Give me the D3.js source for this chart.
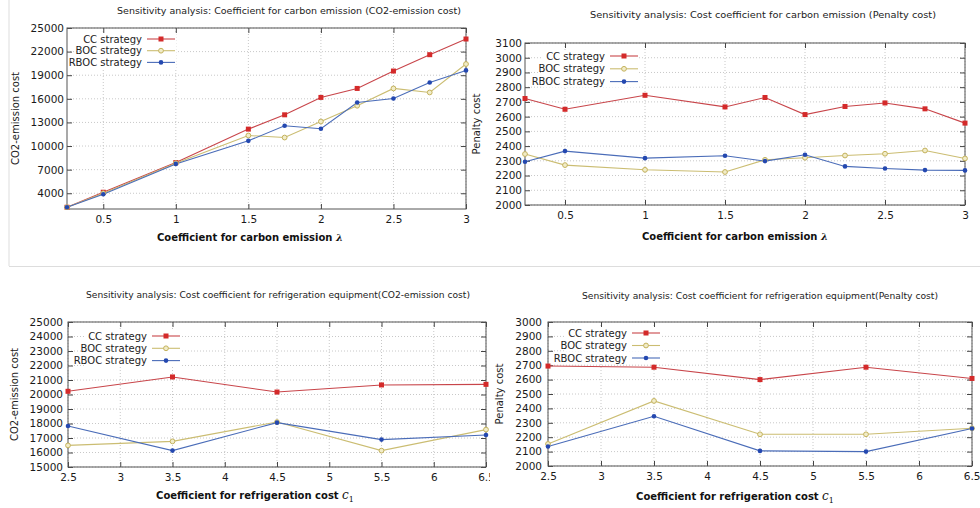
<!DOCTYPE html>
<meta charset="utf-8">
<style>
body { margin: 0; background: #fff; }
svg { display: block; }
.tick text { font-family: "DejaVu Sans", sans-serif; font-size: 10.5px; fill: #1a1a1a; }
.axis path { display: none; }
.axis line { stroke: #444; }
.grid line { stroke: #c8c8c8; stroke-dasharray: 1,2; }
.frame { fill: none; stroke: #555; stroke-width: 1; }
.title { font-family: "DejaVu Sans", sans-serif; font-size: 9.5px; fill: #222; text-anchor: middle; }
.xlabel { font-family: "DejaVu Sans", sans-serif; font-size: 10px; font-weight: bold; fill: #111; text-anchor: middle; }
.ylabel { font-family: "DejaVu Sans", sans-serif; font-size: 10px; fill: #222; text-anchor: middle; }
.legend text { font-family: "DejaVu Sans", sans-serif; font-size: 10px; fill: #222; text-anchor: end; }
</style>
<body>
<script src="https://cdnjs.cloudflare.com/ajax/libs/d3/7.8.5/d3.min.js"></script>
<script>

// x values
var xLambda = [0.25, 0.5, 1, 1.5, 1.75, 2, 2.25, 2.5, 2.75, 3];
var xC1 = [2.5, 3.5, 4.5, 5.5, 6.5];

// CO2-emission cost vs lambda
var co2LambdaCC   = [2220, 4130, 7900, 12150, 13970, 16180, 17320, 19530, 21610, 23600];
var co2LambdaBOC  = [2220, 4000, 7820, 11340, 11080, 13120, 15120, 17320, 16810, 20420];
var co2LambdaRBOC = [2220, 3870, 7730, 10660, 12570, 12190, 15540, 16050, 18080, 19610];

// Penalty cost vs lambda
var penLambdaCC   = [2723, 2650, 2745, 2666, 2730, 2614, 2669, 2693, 2653, 2556];
var penLambdaBOC  = [2346, 2271, 2239, 2224, 2307, 2321, 2336, 2348, 2370, 2316];
var penLambdaRBOC = [2294, 2366, 2318, 2334, 2298, 2341, 2262, 2248, 2237, 2235];

// CO2-emission cost vs c1
var co2C1CC   = [20220, 21210, 20170, 20660, 20700];
var co2C1BOC  = [16490, 16770, 18100, 16130, 17580];
var co2C1RBOC = [17830, 16130, 18060, 16890, 17210];

// Penalty cost vs c1
var penC1CC   = [2694, 2686, 2600, 2686, 2608];
var penC1BOC  = [2153, 2452, 2220, 2220, 2262];
var penC1RBOC = [2135, 2345, 2105, 2100, 2260];

// ticks
var lambdaTicks = [0.5, 1, 1.5, 2, 2.5, 3];
var c1Ticks = [2.5, 3, 3.5, 4, 4.5, 5, 5.5, 6, 6.5];
var co2LambdaTicks = [4000, 7000, 10000, 13000, 16000, 19000, 22000, 25000];
var penLambdaTicks = [2000, 2100, 2200, 2300, 2400, 2500, 2600, 2700, 2800, 2900, 3000, 3100];
var co2C1Ticks = [15000, 16000, 17000, 18000, 19000, 20000, 21000, 22000, 23000, 24000, 25000];
var penC1Ticks = [2000, 2100, 2200, 2300, 2400, 2500, 2600, 2700, 2800, 2900, 3000];

var strategies = ["CC strategy", "BOC strategy", "RBOC strategy"];
var colors = ["#c8454a", "#cbbd72", "#4a6cb8"];

var width = 980, height = 508;

var svg = d3.select("body").append("svg")
    .attr("width", width)
    .attr("height", height);

// separators between the pasted figures
svg.append("line").attr("x1", 9).attr("x2", 9).attr("y1", 0).attr("y2", 266)
    .style("stroke", "#ddd");
svg.append("line").attr("x1", 9).attr("x2", width).attr("y1", 266.5).attr("y2", 266.5)
    .style("stroke", "#ddd");

svg.append("defs").append("clipPath").attr("id", "clipLeft")
  .append("rect").attr("x", 0).attr("y", 270).attr("width", 490).attr("height", 238);

function marker(sel, k, px, py) {
  if (k == 0) {
    sel.append("rect")
      .attr("x", px - 2.5).attr("y", py - 2.5)
      .attr("width", 5).attr("height", 5)
      .attr("fill", "#d42a2a");
  } else if (k == 1) {
    sel.append("circle")
      .attr("cx", px).attr("cy", py).attr("r", 2.4)
      .attr("fill", "#f1ecc8").attr("stroke", "#c4b25c").attr("stroke-width", 1);
  } else {
    sel.append("circle")
      .attr("cx", px).attr("cy", py).attr("r", 2.3)
      .attr("fill", "#2448b0");
  }
}

function panel(c) {
  var g = svg.append("g");
  if (c.clip) g.attr("clip-path", "url(#" + c.clip + ")");

  var x = d3.scaleLinear().domain(c.xDomain).range([c.left, c.right]);
  var y = d3.scaleLinear().domain(c.yDomain).range([c.bottom, c.top]);

  // grid
  g.append("g").attr("class", "grid")
    .selectAll("line").data(c.xTicks).enter().append("line")
    .attr("x1", function(d) { return x(d); }).attr("x2", function(d) { return x(d); })
    .attr("y1", c.top).attr("y2", c.bottom);
  g.append("g").attr("class", "grid")
    .selectAll("line").data(c.yTicks).enter().append("line")
    .attr("y1", function(d) { return y(d); }).attr("y2", function(d) { return y(d); })
    .attr("x1", c.left).attr("x2", c.right);

  // axes, ticks pointing inwards (mirrored)
  g.append("g").attr("class", "axis")
    .attr("transform", "translate(" + c.left + ",0)")
    .call(d3.axisLeft(y).tickValues(c.yTicks).tickSizeInner(-5).tickSizeOuter(0)
      .tickPadding(c.yPad).tickFormat(d3.format("d")));
  g.append("g").attr("class", "axis")
    .attr("transform", "translate(" + c.right + ",0)")
    .call(d3.axisRight(y).tickValues(c.yTicks).tickSizeInner(-5).tickSizeOuter(0).tickFormat(""));
  var xa = g.append("g").attr("class", "axis")
    .attr("transform", "translate(0," + c.bottom + ")")
    .call(d3.axisBottom(x).tickValues(c.xTicks).tickSizeInner(-5).tickSizeOuter(0)
      .tickPadding(7).tickFormat(function(d) { return d; }));
  if (c.lastEnd) {
    xa.selectAll(".tick text").filter(function(d) { return d == c.xDomain[1]; })
      .attr("text-anchor", "end").attr("dx", 8);
  }
  g.append("g").attr("class", "axis")
    .attr("transform", "translate(0," + c.top + ")")
    .call(d3.axisTop(x).tickValues(c.xTicks).tickSizeInner(-5).tickSizeOuter(0).tickFormat(""));

  g.append("rect").attr("class", "frame")
    .attr("x", c.left).attr("y", c.top)
    .attr("width", c.right - c.left).attr("height", c.bottom - c.top);

  // series
  var line = d3.line()
    .x(function(d) { return x(d[0]); })
    .y(function(d) { return y(d[1]); });

  c.series.forEach(function(vals, k) {
    var pts = c.xs.map(function(v, i) { return [v, vals[i]]; });
    g.append("path")
      .datum(pts)
      .attr("d", line)
      .attr("fill", "none")
      .attr("stroke", colors[k])
      .attr("stroke-width", 1.1);
  });
  c.series.forEach(function(vals, k) {
    var mg = g.append("g");
    c.xs.forEach(function(v, i) { marker(mg, k, x(v), y(vals[i])); });
  });

  // legend
  var lg = g.append("g").attr("class", "legend");
  strategies.forEach(function(s, k) {
    var ly = c.legY + k * c.legStep;
    lg.append("rect")
      .attr("x", c.legX - 62).attr("y", ly - 6)
      .attr("width", 96).attr("height", 12).attr("fill", "#fff");
    lg.append("text").attr("x", c.legX).attr("y", ly + 3.5).text(s);
    lg.append("line")
      .attr("x1", c.legX + 5).attr("x2", c.legX + 33)
      .attr("y1", ly).attr("y2", ly)
      .attr("stroke", colors[k]).attr("stroke-width", 1.1);
    marker(lg, k, c.legX + 19, ly);
  });

  // texts
  g.append("text").attr("class", "title")
    .attr("x", c.titleX).attr("y", c.titleY)
    .attr("textLength", c.titleLen).attr("lengthAdjust", "spacingAndGlyphs")
    .text(c.title);

  g.append("text").attr("class", "ylabel")
    .attr("transform", "translate(" + c.ylabX + "," + ((c.top + c.bottom) / 2) + ") rotate(-90)")
    .text(c.ylabel);

  var xl = g.append("text").attr("class", "xlabel")
    .attr("x", c.xlabX).attr("y", c.xlabY);
  xl.append("tspan").text(c.xlabel + " ");
  if (c.sym == "lambda") {
    xl.append("tspan").style("font-family", "DejaVu Serif").style("font-style", "italic").text("\u03bb");
  } else {
    xl.append("tspan").style("font-family", "DejaVu Serif").style("font-style", "italic")
      .style("font-weight", "normal").style("font-size", "12px").text("c");
    xl.append("tspan").attr("dy", 3).style("font-family", "DejaVu Serif")
      .style("font-weight", "normal").style("font-size", "8px").text("1");
  }
}

panel({
  left: 67, right: 466, top: 28, bottom: 209,
  xDomain: [0.25, 3], yDomain: [2000, 25000],
  xTicks: lambdaTicks, yTicks: co2LambdaTicks, yPad: 3,
  xs: xLambda, series: [co2LambdaCC, co2LambdaBOC, co2LambdaRBOC],
  legX: 142, legY: 39, legStep: 11.7,
  title: "Sensitivity analysis: Coefficient for carbon emission  (CO2-emission cost)",
  titleX: 289, titleY: 14, titleLen: 344,
  ylabel: "CO2-emission cost", ylabX: 19,
  xlabel: "Coefficient for carbon emission", sym: "lambda", xlabX: 250, xlabY: 241
});

panel({
  left: 525, right: 965, top: 43, bottom: 205,
  xDomain: [0.25, 3], yDomain: [2000, 3100],
  xTicks: lambdaTicks, yTicks: penLambdaTicks, yPad: 3,
  xs: xLambda, series: [penLambdaCC, penLambdaBOC, penLambdaRBOC],
  legX: 605, legY: 56, legStep: 12.8,
  title: "Sensitivity analysis: Cost coefficient for carbon emission  (Penalty cost)",
  titleX: 763, titleY: 18, titleLen: 346,
  ylabel: "Penalty cost", ylabX: 480,
  xlabel: "Coefficient for carbon emission", sym: "lambda", xlabX: 735, xlabY: 240
});

panel({
  left: 68, right: 486, top: 322, bottom: 467, clip: "clipLeft",
  xDomain: [2.5, 6.5], yDomain: [15000, 25000],
  xTicks: c1Ticks, yTicks: co2C1Ticks, yPad: 5,
  xs: xC1, series: [co2C1CC, co2C1BOC, co2C1RBOC],
  legX: 147, legY: 336, legStep: 12.3,
  title: "Sensitivity analysis: Cost coefficient for refrigeration equipment(CO2-emission cost)",
  titleX: 278, titleY: 298, titleLen: 384,
  ylabel: "CO2-emission cost", ylabX: 18,
  xlabel: "Coefficient for refrigeration cost", sym: "c1", xlabX: 255, xlabY: 499
});

panel({
  left: 548, right: 972, top: 322, bottom: 466, lastEnd: true,
  xDomain: [2.5, 6.5], yDomain: [2000, 3000],
  xTicks: c1Ticks, yTicks: penC1Ticks, yPad: 6,
  xs: xC1, series: [penC1CC, penC1BOC, penC1RBOC],
  legX: 627, legY: 333, legStep: 12.5,
  title: "Sensitivity analysis: Cost coefficient for refrigeration equipment(Penalty cost)",
  titleX: 760, titleY: 299, titleLen: 356,
  ylabel: "Penalty cost", ylabX: 503,
  xlabel: "Coefficient for refrigeration cost", sym: "c1", xlabX: 735, xlabY: 500
});

</script>
